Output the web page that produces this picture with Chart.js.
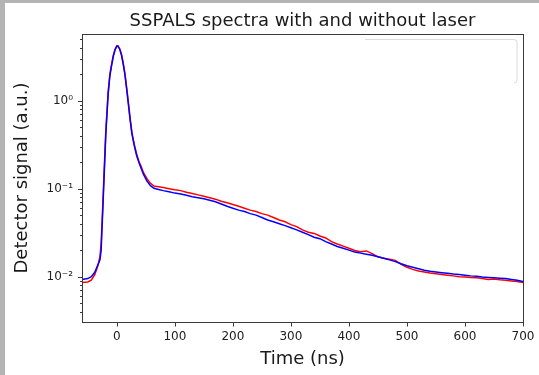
<!DOCTYPE html>
<html><head><meta charset="utf-8">
<script src="https://cdn.jsdelivr.net/npm/chart.js@4.4.0/dist/chart.umd.min.js"></script>
<style>
html,body{margin:0;padding:0;background:#fff;}
body{width:539px;height:375px;position:relative;overflow:hidden;}
#frameL{position:absolute;left:0;top:0;width:5px;height:375px;background:#b4b4b4;}
#frameT{position:absolute;left:0;top:0;width:539px;height:3px;background:#b4b4b4;}
#c{position:absolute;left:5px;top:3px;}
</style></head><body>
<div id="frameL"></div><div id="frameT"></div>
<canvas id="c" width="534" height="372"></canvas>
<script>
// Time axis (ns)
const timeNs = [-60,-50,-44,-38,-33,-29,-27,-25,-22,-19,-15,-12,-9,-6,-3,0,2,5,8,11,14,17,20,23,26,30,34,38,42,46,52,58,64,72,80,90,100,110,120,130,140,150,160,170,180,190,200,210,220,230,240,250,260,270,280,290,300,310,320,330,340,350,360,370,380,390,400,410,420,430,440,450,460,470,480,490,500,510,520,530,540,550,560,570,580,590,600,610,620,630,640,650,660,670,680,690,700];
// Red trace (with laser)
const withLaser = [0.0086,0.0087,0.0091,0.0105,0.0130,0.0170,0.024,0.048,0.15,0.45,1.25,2.0,2.6,3.3,3.85,4.2,4.2,3.9,3.4,2.7,2.05,1.4,0.95,0.63,0.44,0.32,0.25,0.205,0.178,0.152,0.130,0.115,0.107,0.105,0.103,0.100,0.097,0.095,0.091,0.088,0.085,0.082,0.079,0.076,0.072,0.069,0.066,0.063,0.060,0.057,0.055,0.052,0.050,0.047,0.044,0.042,0.039,0.037,0.034,0.032,0.031,0.029,0.0275,0.025,0.0235,0.0222,0.021,0.0198,0.0192,0.0196,0.0183,0.0168,0.0162,0.0158,0.0153,0.0138,0.0128,0.0121,0.0116,0.0113,0.0110,0.0108,0.0106,0.0104,0.0102,0.0100,0.0099,0.0098,0.0097,0.0095,0.0093,0.0094,0.0092,0.0091,0.0089,0.0088,0.0086];
// Blue trace (without laser)
const withoutLaser = [0.0093,0.0095,0.0100,0.0112,0.0135,0.0155,0.020,0.042,0.13,0.41,1.16,1.9,2.5,3.2,3.8,4.15,4.15,3.85,3.3,2.6,1.96,1.35,0.90,0.60,0.42,0.31,0.24,0.20,0.170,0.145,0.122,0.108,0.101,0.098,0.095,0.092,0.089,0.087,0.084,0.081,0.079,0.077,0.074,0.071,0.067,0.063,0.060,0.057,0.055,0.052,0.050,0.047,0.044,0.042,0.040,0.038,0.036,0.034,0.032,0.030,0.028,0.027,0.025,0.0235,0.022,0.021,0.020,0.019,0.0185,0.018,0.0175,0.0168,0.0162,0.0155,0.0148,0.0140,0.0133,0.0128,0.0123,0.0118,0.0115,0.0113,0.0111,0.0109,0.0107,0.0106,0.0104,0.0102,0.0101,0.0099,0.0098,0.0097,0.0096,0.0095,0.0093,0.0091,0.0088];
const xTickValues = [0,100,200,300,400,500,600,700];
const yDecades = [0.001,0.01,0.1,1,10];
const yDecadeLabels = ['10\u207B\u00B3','10\u207B\u00B2','10\u207B\u00B9','10\u2070','10\u00B9'];

const FONT = "'DejaVu Sans', sans-serif";
const toXY = (ys) => timeNs.map((t,i)=>({x:t, y:ys[i]}));

const decoPlugin = {
  id:'deco',
  afterDraw(chart){
    const {ctx, chartArea:a, scales:{x,y}} = chart;
    ctx.save();
    ctx.strokeStyle = '#3a3a3a';
    ctx.lineWidth = 1;
    const L = Math.round(a.left)+0.5, R = Math.round(a.right)+0.5, T = Math.round(a.top)+0.5, B = Math.round(a.bottom)+0.5;
    ctx.strokeRect(L, T, R-L, B-T);
    ctx.beginPath();
    y.ticks.forEach(t=>{
      const py = Math.round(y.getPixelForValue(t.value))+0.5;
      const major = yDecades.some(d=>Math.abs(d-t.value)/d<1e-6);
      const len = major ? 4.5 : 2.5;
      ctx.moveTo(L-len, py); ctx.lineTo(L, py);
    });
    x.ticks.forEach(t=>{
      const px = Math.round(x.getPixelForValue(t.value))+0.5;
      ctx.moveTo(px, B); ctx.lineTo(px, B+4);
    });
    ctx.stroke();
    // empty legend frame (top-right)
    const lx = a.right-158, rx = a.right-6, ty = a.top+5.5, by = a.top+49, r=3;
    ctx.strokeStyle = '#dadada';
    ctx.beginPath();
    ctx.moveTo(lx, ty);
    ctx.lineTo(rx-r, ty);
    ctx.arcTo(rx, ty, rx, ty+r, r);
    ctx.lineTo(rx, by-r);
    ctx.arcTo(rx, by, rx-r, by, r);
    ctx.stroke();
    ctx.restore();
  }
};

new Chart(document.getElementById('c'), {
  type:'line',
  data:{
    datasets:[
      {label:'without laser', data:toXY(withoutLaser), borderColor:'#0000ff', borderWidth:1.5, pointRadius:0, tension:0, fill:false, order:0},
      {label:'with laser', data:toXY(withLaser), borderColor:'#ff0000', borderWidth:1.5, pointRadius:0, tension:0, fill:false, order:1}
    ]
  },
  options:{
    responsive:false, animation:false, devicePixelRatio:1,
    layout:{padding:{left:0,right:16,top:0,bottom:0}},
    plugins:{
      legend:{display:false}, tooltip:{enabled:false},
      title:{display:true, text:'SSPALS spectra with and without laser', fullSize:false,
        font:{family:FONT, size:18, weight:'normal'}, color:'#1a1a1a', padding:{top:8, bottom:1.4}}
    },
    scales:{
      x:{type:'linear', min:-60, max:700,
        afterBuildTicks(s){ s.ticks = xTickValues.map(v=>({value:v})); },
        afterFit(s){ s.height = 53; s.paddingLeft = 0; s.paddingRight = 0; },
        grid:{display:false, drawTicks:false},
        border:{display:false},
        ticks:{font:{family:FONT,size:12}, color:'#222', padding:8, maxRotation:0, autoSkip:false,
          callback:(v)=>String(v)},
        title:{display:true, text:'Time (ns)', font:{family:FONT,size:18}, color:'#1a1a1a', padding:{top:0,bottom:5}}
      },
      y:{type:'logarithmic', min:0.00305, max:5.73,
        afterBuildTicks(s){
          const out=[];
          yDecades.forEach(d=>{ for(let k=1;k<=9;k++){ const v=d*k; if(v>=s.min*0.9999 && v<=s.max*1.0001) out.push({value:v}); } });
          s.ticks = out;
        },
        afterFit(s){ s.width = 77; s.paddingTop = 0; s.paddingBottom = 0; },
        grid:{display:false, drawTicks:false},
        border:{display:false},
        ticks:{font:{family:FONT,size:12}, color:'#222', padding:9, autoSkip:false,
          callback:(v)=>{ const i = yDecades.findIndex(d=>Math.abs(d-v)/d<1e-6); return i>=0 ? yDecadeLabels[i] : ''; }},
        title:{display:true, text:'Detector signal (a.u.)', font:{family:FONT,size:18}, color:'#1a1a1a', padding:{top:7,bottom:0}}
      }
    }
  },
  plugins:[decoPlugin]
});
</script>
</body></html>
